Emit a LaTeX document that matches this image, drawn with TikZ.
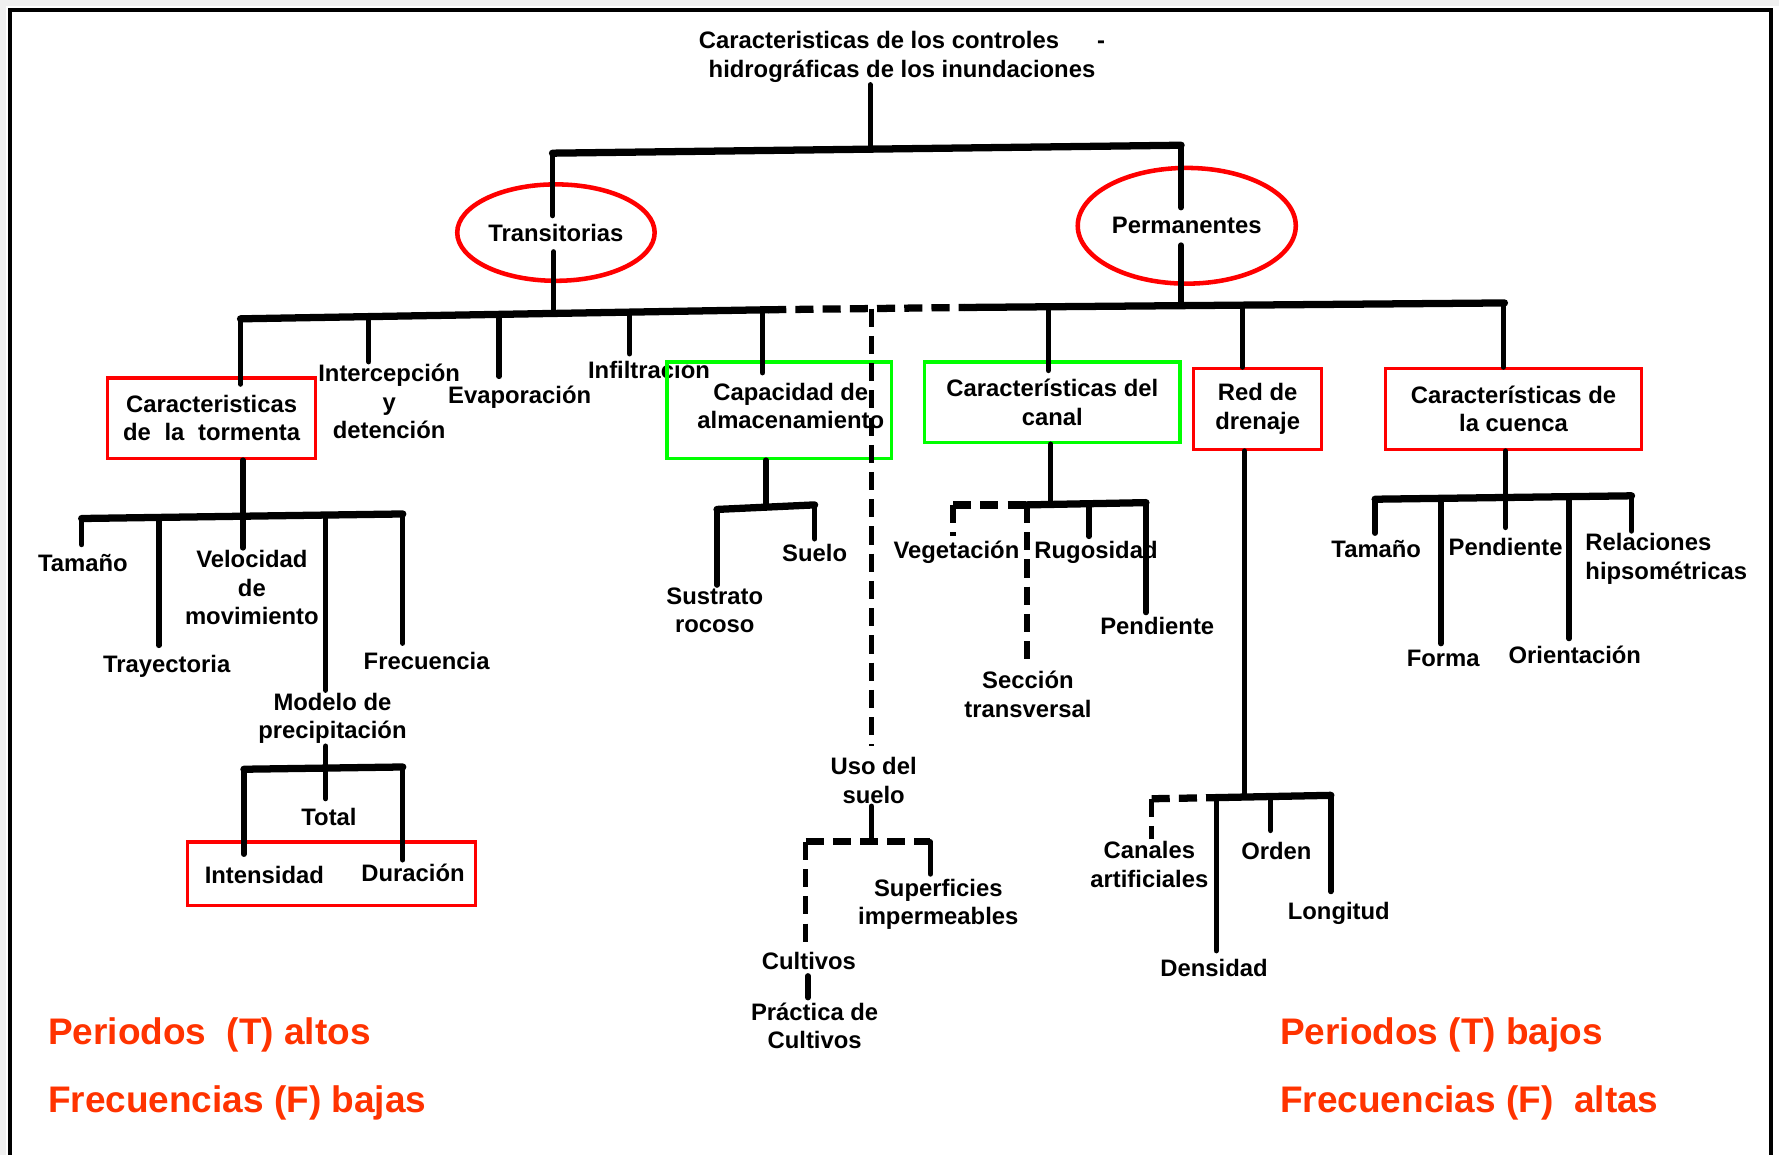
\documentclass[tikz,border=0pt]{standalone}
\usepackage{fontspec}
\setmainfont{Liberation Sans}
\usetikzlibrary{shapes.geometric,calc}
\definecolor{treered}{RGB}{255,0,0}
\definecolor{treegreen}{RGB}{0,255,0}
\definecolor{notered}{RGB}{255,51,0}
\begin{document}
\begin{tikzpicture}[x=0.5pt,y=-0.5pt,
  ln/.style={line width=2.4pt, line cap=round},
  bar/.style={line width=3.2pt, line cap=round},
  dsh/.style={line width=2.5pt, dash pattern=on 8pt off 4pt},
  lbl/.style={font=\fontsize{10.5}{12.5}\selectfont\bfseries, align=center, inner sep=1pt},
  oval/.style={ellipse, draw=treered, line width=2pt, inner sep=0pt, lbl},
  rbox/.style={rectangle, draw=treered, line width=1.5pt, lbl},
  gbox/.style={rectangle, draw=treegreen, line width=1.5pt, lbl},
  note/.style={font=\fontsize{16.3}{19}\selectfont\bfseries, text=notered, anchor=west, inner sep=0pt}]
\useasboundingbox (0,0) rectangle (1568,1018);
\fill[white] (0,0) rectangle (1568,1018);
\fill[gray!12] (0,0) rectangle (1568,5);
\fill[gray!12] (0,0) rectangle (5,1018);
% frame
\draw[line width=1.8pt] (9,1018) -- (9,9) -- (1561,9) -- (1561,1018);

% ---------- nodes ----------
\node[lbl] (title) at (795,50) {Caracteristicas de los controles\hspace{1.6em}-\\hidrográficas de los inundaciones};
\node[oval, minimum width=85.5pt, minimum height=42.5pt] (trans) at (490,205) {Transitorias};
\node[oval, minimum width=93.5pt, minimum height=51pt] (perm) at (1046,199) {Permanentes};

\node[rbox, minimum width=91.5pt, minimum height=35.5pt] (tor) at (186.5,368.5) {Caracteristicas\\de\hspace{0.3em} la\hspace{0.3em} tormenta};
\node[lbl] (interc) at (343,354) {Intercepción\\y\\detención};
\node[lbl] (evap) at (458,350) {Evaporación};
\node[lbl] (infil) at (572,326) {Infiltración};
\node[gbox, minimum width=99pt, minimum height=42.5pt] (cap) at (687,361.5) {\phantom{x}};
\node[lbl] (captext) at (697,358) {Capacidad de\\almacenamiento};
\node[lbl] (uso) at (770,688) {Uso del\\suelo};
\node[gbox, minimum width=112.5pt, minimum height=35.5pt] (canal) at (927.5,354.5) {Características del\\canal};
\node[rbox, minimum width=56.5pt, minimum height=35.5pt] (red) at (1108.5,360.5) {Red de\\drenaje};
\node[rbox, minimum width=113pt, minimum height=35.5pt] (cuenca) at (1334,360.5) {Características de\\la cuenca};

% tormenta children
\node[lbl] (tam1) at (73,496) {Tamaño};
\node[lbl] (tray) at (147,587) {Trayectoria};
\node[lbl] (vel) at (222,518) {Velocidad\\de\\movimiento};
\node[lbl] (modelo) at (293,633) {Modelo de\\precipitación};
\node[lbl] (frec) at (376,583) {Frecuencia};
\node[lbl] (total) at (290,720) {Total};
\node[rbox, minimum width=127pt, minimum height=28pt] (dbox) at (292,770) {\phantom{x}};
\node[lbl] (inten) at (233,771) {Intensidad};
\node[lbl] (dur) at (364,769) {Duración};

% capacidad children
\node[lbl] (sust) at (630,538) {Sustrato\\rocoso};
\node[lbl] (suelo) at (718,487) {Suelo};

% uso children
\node[lbl] (cult) at (713,847) {Cultivos};
\node[lbl] (sup) at (827,797) {Superficies\\impermeables};
\node[lbl] (prac) at (718,904) {Práctica de\\Cultivos};

% canal children
\node[lbl] (veg) at (843,487) {Vegetación};
\node[lbl] (secc) at (906,612) {Sección\\transversal};
\node[lbl] (rug) at (966,487) {Rugosidad};
\node[lbl] (pend1) at (1020,552) {Pendiente};

% red children
\node[lbl] (canales) at (1013,762) {Canales\\artificiales};
\node[lbl] (dens) at (1070,853) {Densidad};
\node[lbl] (orden) at (1125,750) {Orden};
\node[lbl] (long) at (1180,805) {Longitud};

% cuenca children
\node[lbl] (tam2) at (1213,484) {Tamaño};
\node[lbl] (forma) at (1272,580) {Forma};
\node[lbl] (pend2) at (1327,482) {Pendiente};
\node[lbl] (orient) at (1388,577) {Orientación};
\node[lbl, align=left, anchor=north west] (relac) at (1395,468) {Relaciones\\hipsométricas};

% notes
\node[note] (n1) at (42,912) {Periodos\ \ (T) altos};
\node[note] (n2) at (42,972) {Frecuencias (F) bajas};
\node[note] (n3) at (1128,912) {Periodos (T) bajos};
\node[note] (n4) at (1128,972) {Frecuencias (F)\ \ altas};

% ---------- connectors ----------
% top level
\coordinate (jtop) at (767,131);
\coordinate (jl) at (487,135);
\coordinate (jr) at (1041,128);
\draw[ln] (jtop |- title.south) -- (jtop);
\draw[bar] (jl) -- (jr);
\draw[ln] (jl) -- ($(trans.center)+(-3,-15)$);
\draw[ln] (jr) -- ($(perm.center)+(-5,-16)$);

% second level bar
\coordinate (b2a) at (212,281);
\coordinate (b2b) at (677,273);
\coordinate (b2c) at (850,271);
\coordinate (b2d) at (1326,267);
\draw[bar] (b2a) -- (b2b);
\draw[dsh, line width=3.2pt] (b2b) -- (b2c);
\draw[bar] (b2c) -- (b2d);
\draw[ln] ($(trans.center)+(-2,17)$) -- (488,276);
\draw[ln] ($(perm.center)+(-5,17)$) -- (1041,269);

\coordinate (d1) at (212,281);
\coordinate (d2) at (325,279);
\coordinate (d3) at (440,277);
\coordinate (d4) at (555,275);
\coordinate (d5) at (672,273);
\coordinate (d6) at (768,272);
\coordinate (d7) at (924,270);
\coordinate (d8) at (1095,269);
\coordinate (d9) at (1325,267);
\draw[ln] (d1) -- ($(d1 |- tor.north)+(0,7)$);
\draw[ln] (d2) -- (d2 |- interc.north);
\draw[ln] (d3) -- ($(d3 |- evap.north)+(0,-6)$);
\draw[ln] (d4) -- ($(d4 |- infil.north)+(0,-4)$);
\draw[ln] (d5) -- ($(d5 |- cap.north)+(0,11)$);
\draw[dsh] (d6) -- ($(d6 |- uso.north)+(0,-8)$);
\draw[ln] (d7) -- ($(d7 |- canal.north)+(0,9)$);
\draw[ln] (d8) -- (d8 |- red.north);
\draw[ln] (d9) -- (d9 |- cuenca.north);

% tormenta subtree
\coordinate (tj) at (214,455);
\draw[ln] (tj |- tor.south) -- (tj);
\draw[bar] (72,457) coordinate (t1) -- (355,453) coordinate (t5);
\coordinate (t2) at (140,456);
\coordinate (t4) at (287,454);
\draw[ln] (t1) -- ($(t1 |- tam1.north)+(0,-6)$);
\draw[ln] (t2) -- ($(t2 |- tray.north)+(0,-6)$);
\draw[ln] (tj) -- (tj |- vel.north);
\draw[ln] (t4) -- (t4 |- modelo.north);
\draw[ln] (t5) -- ($(t5 |- frec.north)+(0,-6)$);

% modelo subtree
\coordinate (mj) at (287,677);
\draw[ln] (mj |- modelo.south) -- (mj);
\draw[bar] (215,678) coordinate (m1) -- (355,676) coordinate (m3);
\draw[ln] (m1) -- ($(m1 |- inten.north)+(0,-8)$);
\draw[ln] (mj) -- ($(mj |- total.north)+(0,-6)$);
\draw[ln] (m3) -- ($(m3 |- dur.north)+(0,-1)$);

% capacidad subtree
\coordinate (cj) at (675,447);
\draw[ln] (cj |- cap.south) -- (cj);
\draw[bar] (632,449) coordinate (c1) -- (718,445) coordinate (c2);
\draw[ln] (c1) -- (c1 |- sust.north);
\draw[ln] (c2) -- ($(c2 |- suelo.north)+(0,-2)$);

% uso subtree
\coordinate (uj) at (768,742);
\draw[ln] (uj |- uso.south) -- (uj);
\draw[dsh, line width=3.2pt] (710,742) coordinate (u1) -- (820,742) coordinate (u2);
\draw[dsh] (u1) -- ($(u1 |- cult.north)+(0,-7)$);
\draw[ln] (u2) -- ($(u2 |- sup.north)+(0,-2)$);
\coordinate (cu) at (712,0);
\draw[ln] ($(cu |- cult.south)+(0,3)$) -- ($(cu |- prac.north)+(0,-2)$);

% canal subtree
\coordinate (kj) at (926,443);
\draw[ln] (kj |- canal.south) -- (kj);
\draw[bar] (905,445) coordinate (k2) -- (1010,443) coordinate (k4);
\draw[dsh, line width=3.2pt] (840,445) coordinate (k1) -- (k2);
\coordinate (k3) at (960,444);
\draw[dsh] (k1) -- ($(k1 |- veg.north)+(0,-2)$);
\draw[dsh] (k2) -- ($(k2 |- secc.north)+(0,-8)$);
\draw[ln] (k3) -- ($(k3 |- rug.north)+(0,-2)$);
\draw[ln] (k4) -- ($(k4 |- pend1.north)+(0,-2)$);

% red subtree
\coordinate (rj) at (1097,702);
\draw[ln] (rj |- red.south) -- (rj);
\draw[bar] (1072,703) coordinate (r2) -- (1173,701) coordinate (r4);
\draw[dsh, line width=3.2pt] (1015,704) coordinate (r1) -- (r2);
\coordinate (r3) at (1120,702);
\draw[dsh] (r1) -- (r1 |- canales.north);
\draw[ln] (r2) -- ($(r2 |- dens.north)+(0,-5)$);
\draw[ln] (r3) -- ($(r3 |- orden.north)+(0,-8)$);
\draw[ln] (r4) -- ($(r4 |- long.north)+(0,-7)$);

% cuenca subtree
\coordinate (qj) at (1327,438);
\draw[ln] (qj |- cuenca.south) -- (qj);
\draw[bar] (1212,440) coordinate (q1) -- (1438,437) coordinate (q5);
\coordinate (q2) at (1270,439);
\coordinate (q4) at (1383,438);
\draw[ln] (q1) -- ($(q1 |- tam2.north)+(0,-4)$);
\draw[ln] (q2) -- ($(q2 |- forma.north)+(0,-3)$);
\draw[ln] (qj) -- ($(qj |- pend2.north)+(0,-7)$);
\draw[ln] (q4) -- ($(q4 |- orient.north)+(0,-4)$);
\draw[ln] (q5) -- (q5 |- relac.north);
\end{tikzpicture}
\end{document}
